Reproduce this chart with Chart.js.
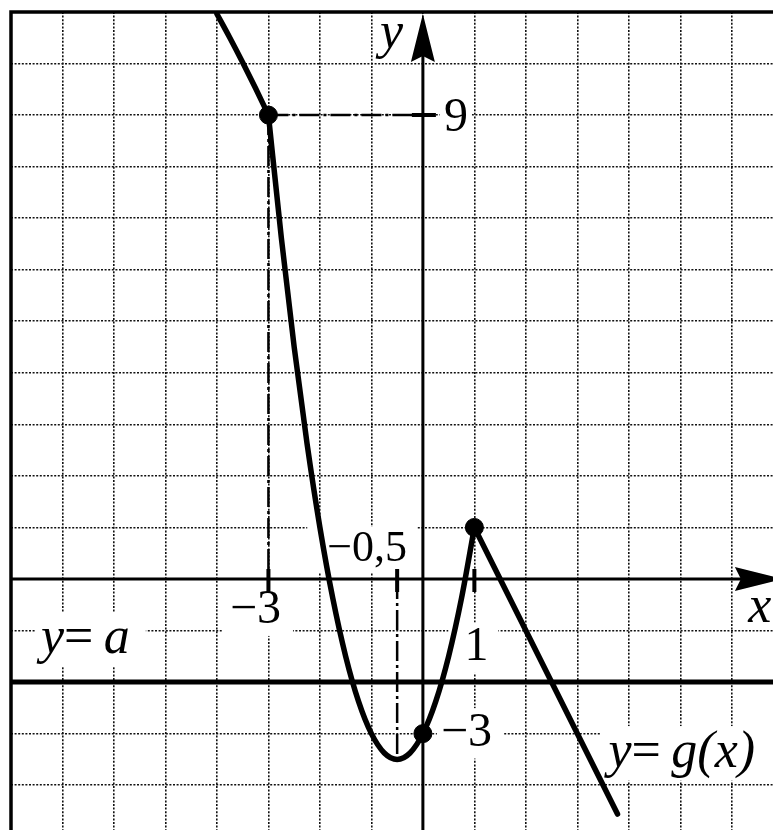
<!DOCTYPE html>
<html><head><meta charset="utf-8">
<script src="https://cdn.jsdelivr.net/npm/chart.js@4/dist/chart.umd.min.js"></script>
<style>html,body{margin:0;padding:0;background:#fff}canvas{display:block}</style>
</head><body>
<canvas id="c" width="773" height="830"></canvas>
<script>
// ---- data ----
const leftX = [-4.0, -3.75, -3.5, -3.25, -3];
const leftY = [10.96, 10.5, 10.02, 9.52, 9];
const midX = [-3, -2.75, -2.5, -2.25, -2, -1.75, -1.5, -1.25, -1, -0.75, -0.5, -0.25, 0, 0.25, 0.5, 0.75, 1];
const midY = [9, 6.625, 4.5, 2.625, 1, -0.375, -1.5, -2.375, -3, -3.375, -3.5, -3.375, -3, -2.375, -1.5, -0.375, 1];
const rightX = [1, 3.78];
const rightY = [1, -4.56];
const markX = [-3, 0, 1];
const markY = [9, -3, 1];
const aValue = -2;
const vertexX = -0.5;
const vertexY = -3.5;
const xTickValues = [-3, -0.5, 1];
const xTickLabels = ['\u22123', '\u22120,5', '1'];
const yTickValues = [9, -3];
const yTickLabels = ['9', '\u22123'];
const xGrid = [-8, -7, -6, -5, -4, -3, -2, -1, 0, 1, 2, 3, 4, 5, 6];
const yGrid = [-4, -3, -2, -1, 0, 1, 2, 3, 4, 5, 6, 7, 8, 9, 10, 11];
const xRange = [-8, 6.8];
const yRange = [-4.87, 11];

// ---- helpers ----
const zip = (xs, ys) => xs.map((v, i) => ({x: v, y: ys[i]}));
const SERIF = '"Liberation Serif", "Times New Roman", serif';
function fontOf(it, size) { return (it ? 'italic ' : '') + size + 'px ' + SERIF; }
function layout(ctx, spec) {
  let w = 0;
  const ws = spec.parts.map(([t, it]) => { ctx.font = fontOf(it, spec.size); const m = ctx.measureText(t).width; w += m; return m; });
  const left = spec.align === 'center' ? spec.px - w / 2 : spec.px;
  return {ws, w, left};
}
function specs(chart) {
  const xs = chart.scales.x, ys = chart.scales.y;
  const X = v => xs.getPixelForValue(v), Y = v => ys.getPixelForValue(v);
  const x0 = X(0), y0 = Y(0);
  return [
    {parts: [[xTickLabels[0], false]], px: X(xTickValues[0]) - 13, py: y0 + 44, align: 'center', size: 48, box: [8, 12]},
    {parts: [[xTickLabels[1], false]], px: X(xTickValues[1]) - 30, py: y0 - 18, align: 'center', size: 44, box: [20, 10]},
    {parts: [[xTickLabels[2], false]], px: X(xTickValues[2]) + 2, py: y0 + 81, align: 'center', size: 48, box: [16, 10]},
    {parts: [[yTickLabels[0], false]], px: x0 + 21, py: Y(yTickValues[0]) + 16, align: 'left', size: 48, box: [4, 4]},
    {parts: [[yTickLabels[1], false]], px: x0 + 18, py: Y(yTickValues[1]) + 12, align: 'left', size: 48, box: [4, 12]},
    {parts: [['y', true]], px: x0 - 43, py: Y(yRange[1]) + 36, align: 'left', size: 52, box: null},
    {parts: [['x', true]], px: x0 + 337, py: y0 + 43, align: 'center', size: 52, box: null},
    {parts: [['y', true], ['=', false], ['\u2009', false], ['a', true]], px: X(xRange[0]) + 30, py: Y(aValue) - 29, align: 'left', size: 52, box: [6, 16]},
    {parts: [['y', true], ['=', false], ['\u2009', false], ['g', true], ['(', true], ['x', true], [')', true]], px: X(rightX[1]) - 9, py: Y(-3) + 33, align: 'left', size: 52, box: [8, 30]}
  ];
}

const overlay = {
  id: 'overlay',
  beforeDatasetsDraw(chart) {
    const {ctx} = chart;
    const xs = chart.scales.x, ys = chart.scales.y;
    const X = v => xs.getPixelForValue(v), Y = v => ys.getPixelForValue(v);
    const x0 = X(0), y0 = Y(0);
    ctx.save();
    // white boxes behind labels
    ctx.fillStyle = '#fff';
    specs(chart).forEach(s => {
      if (!s.box) return;
      const L = layout(ctx, s);
      ctx.fillRect(L.left - s.box[0], s.py - s.size * 0.78, L.w + s.box[0] + s.box[1], s.size * 1.05);
    });
    ctx.strokeStyle = '#000';
    ctx.fillStyle = '#000';
    // frame
    ctx.lineWidth = 3.5;
    ctx.beginPath();
    ctx.moveTo(X(xRange[0]), chart.height);
    ctx.lineTo(X(xRange[0]), Y(yRange[1]));
    ctx.lineTo(chart.width, Y(yRange[1]));
    ctx.stroke();
    // axes
    ctx.lineWidth = 3;
    ctx.beginPath();
    ctx.moveTo(X(xRange[0]), y0); ctx.lineTo(chart.width + 20, y0);
    ctx.moveTo(x0, chart.height); ctx.lineTo(x0, Y(yRange[1]) + 30);
    ctx.stroke();
    // arrowheads
    const tipY = Y(yRange[1]) + 2;
    ctx.beginPath();
    ctx.moveTo(x0, tipY); ctx.lineTo(x0 + 12, tipY + 48); ctx.lineTo(x0, tipY + 42); ctx.lineTo(x0 - 12, tipY + 48); ctx.closePath();
    ctx.fill();
    const tipX = X(0) + 360;
    ctx.beginPath();
    ctx.moveTo(tipX, y0); ctx.lineTo(tipX - 48, y0 - 12); ctx.lineTo(tipX - 42, y0); ctx.lineTo(tipX - 48, y0 + 12); ctx.closePath();
    ctx.fill();
    // tick marks
    ctx.lineWidth = 4;
    ctx.beginPath();
    xTickValues.forEach(v => { ctx.moveTo(X(v), y0 - 10); ctx.lineTo(X(v), y0 + 13); });
    ctx.moveTo(x0 - 11, Y(yTickValues[0])); ctx.lineTo(x0 + 13, Y(yTickValues[0]));
    ctx.stroke();
    ctx.restore();
  },
  afterDatasetsDraw(chart) {
    const {ctx} = chart;
    ctx.save();
    ctx.fillStyle = '#000';
    ctx.textBaseline = 'alphabetic';
    ctx.textAlign = 'left';
    specs(chart).forEach(s => {
      const L = layout(ctx, s);
      let cx = L.left;
      s.parts.forEach(([t, it], i) => { ctx.font = fontOf(it, s.size); ctx.fillText(t, cx, s.py); cx += L.ws[i]; });
    });
    ctx.restore();
  }
};

const curve = {showLine: true, borderColor: '#000', borderWidth: 5.5, pointRadius: 0, cubicInterpolationMode: 'monotone', order: 1, borderCapStyle: 'round'};
const guide = {showLine: true, borderColor: '#000', borderWidth: 2.5, pointRadius: 0, borderDash: [20, 4, 3, 4], order: 3};

new Chart(document.getElementById('c'), {
  type: 'scatter',
  data: {
    datasets: [
      {data: zip(markX, markY), showLine: false, pointRadius: 9, pointBackgroundColor: '#000', pointBorderColor: '#000', order: 0},
      Object.assign({}, curve, {data: zip(leftX, leftY)}),
      Object.assign({}, curve, {data: zip(midX, midY)}),
      Object.assign({}, curve, {data: zip(rightX, rightY), cubicInterpolationMode: 'default', tension: 0}),
      {data: [{x: xRange[0], y: aValue}, {x: xRange[1], y: aValue}], showLine: true, borderColor: '#000', borderWidth: 5, pointRadius: 0, order: 2},
      Object.assign({}, guide, {data: [{x: markX[0], y: markY[0]}, {x: 0, y: markY[0]}]}),
      Object.assign({}, guide, {data: [{x: markX[0], y: markY[0]}, {x: markX[0], y: 0}]}),
      Object.assign({}, guide, {data: [{x: vertexX, y: 0}, {x: vertexX, y: vertexY}]})
    ]
  },
  options: {
    responsive: false,
    animation: false,
    events: [],
    layout: {autoPadding: false, padding: {left: 11, top: 12, right: 0, bottom: 0}},
    plugins: {legend: {display: false}, tooltip: {enabled: false}},
    scales: {
      x: {
        type: 'linear', min: xRange[0], max: xRange[1],
        afterBuildTicks: s => { s.ticks = xGrid.map(v => ({value: v})); },
        ticks: {display: false},
        grid: {color: '#111', lineWidth: 1.6, drawTicks: false},
        border: {display: false, dash: [2, 1.6]}
      },
      y: {
        type: 'linear', min: yRange[0], max: yRange[1],
        afterBuildTicks: s => { s.ticks = yGrid.map(v => ({value: v})); },
        ticks: {display: false},
        grid: {color: '#111', lineWidth: 1.6, drawTicks: false},
        border: {display: false, dash: [2, 1.6]}
      }
    }
  },
  plugins: [overlay]
});
</script>
</body></html>
